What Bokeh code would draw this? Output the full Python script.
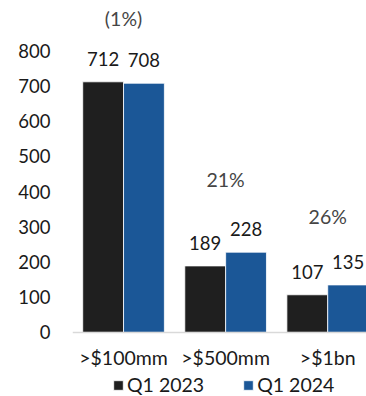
from bokeh.plotting import figure
from bokeh.models import ColumnDataSource, FixedTicker, Legend, LegendItem, Range1d, Span
from bokeh.transform import dodge
from bokeh.embed import file_html
from bokeh.resources import INLINE
from bokeh.core.properties import value

categories = [">$100mm", ">$500mm", ">$1bn"]
q1_2023 = [712, 189, 107]
q1_2024 = [708, 228, 135]
series_names = ["Q1 2023", "Q1 2024"]
y_ticks = [0, 100, 200, 300, 400, 500, 600, 700, 800]

FONT = "Lato"
DARK = "#1f1f1f"
BLUE = "#1b5797"
TXT = "#1a1a1a"

xs = list(range(len(categories)))


def pct_label(a, b):
    c = round((b - a) / a * 100)
    return f"({abs(c)}%)" if c < 0 else f"{c}%"


src = ColumnDataSource(dict(
    x=xs,
    a=q1_2023,
    b=q1_2024,
    a_lbl=[str(v) for v in q1_2023],
    b_lbl=[str(v) for v in q1_2024],
    top=[max(a, b) for a, b in zip(q1_2023, q1_2024)],
    pct=[pct_label(a, b) for a, b in zip(q1_2023, q1_2024)],
    pct_off=[-63, -73, -68],
    zero=[0] * len(categories),
    cat=categories,
))

p = figure(width=366, height=396, output_backend="svg", toolbar_location=None,
           x_range=Range1d(-0.5, 2.38), y_range=Range1d(-182, 943),
           min_border_left=72, min_border_right=0, min_border_top=0,
           min_border_bottom=0, x_axis_location=None)
p.outline_line_color = None
p.xgrid.grid_line_color = None
p.ygrid.grid_line_color = None
p.background_fill_color = "white"

r1 = p.vbar(x=dodge("x", -0.2), top="a", width=0.4, source=src, fill_color=DARK,
            line_color="white", line_width=0.8)
r2 = p.vbar(x=dodge("x", 0.2), top="b", width=0.4, source=src, fill_color=BLUE,
            line_color="white", line_width=0.8)

p.add_layout(Span(location=0, dimension="width", line_color="#d9d9d9", line_width=1.5))

p.text(x=dodge("x", -0.2), y="a", text="a_lbl", source=src, text_align="center",
       text_baseline="middle", y_offset=-23, text_font=value(FONT),
       text_font_size=value("18.5px"), text_color=TXT)
p.text(x=dodge("x", 0.2), y="b", text="b_lbl", source=src, text_align="center",
       text_baseline="middle", y_offset=-23, text_font=value(FONT),
       text_font_size=value("18.5px"), text_color=TXT)
p.text(x="x", y="top", text="pct", source=src, text_align="center",
       text_baseline="middle", y_offset="pct_off", text_font=value(FONT),
       text_font_size=value("19.5px"), text_color="#454545")
p.text(x="x", y="zero", text="cat", source=src, text_align="center",
       text_baseline="middle", y_offset=25, text_font=value(FONT),
       text_font_size=value("19.5px"), text_color=TXT)

p.yaxis.ticker = FixedTicker(ticks=y_ticks)
p.yaxis.axis_line_color = None
p.yaxis.major_tick_line_color = None
p.yaxis.minor_tick_line_color = None
p.yaxis.major_tick_out = 0
p.yaxis.major_label_standoff = 22
p.yaxis.major_label_text_font = FONT
p.yaxis.major_label_text_font_size = "18.5px"
p.yaxis.major_label_text_color = TXT

legend = Legend(items=[LegendItem(label=series_names[0], renderers=[r1]),
                       LegendItem(label=series_names[1], renderers=[r2])],
                orientation="horizontal", location=(40, 0),
                glyph_width=12, glyph_height=12, label_standoff=3, spacing=38,
                padding=0, margin=0, border_line_color=None,
                background_fill_alpha=0,
                label_text_font=FONT, label_text_font_size="19.5px",
                label_text_color=TXT, label_height=16)
p.add_layout(legend)

open("out.html", "w").write(file_html(p, INLINE))
